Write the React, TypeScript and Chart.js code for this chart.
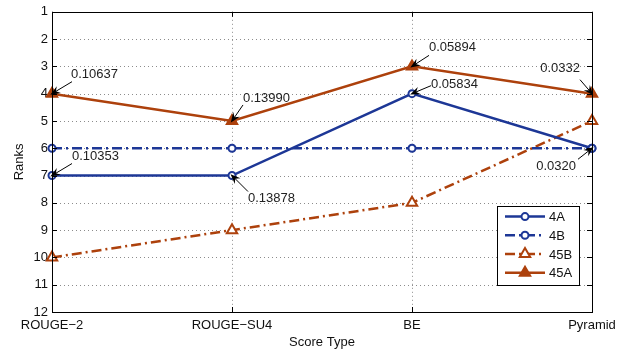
import React, { useEffect, useRef } from "react";
import { Chart, registerables } from "chart.js";

Chart.register(...registerables);

const categories = ["ROUGE\u22122", "ROUGE\u2212SU4", "BE", "Pyramid"];
const seriesNames = ["4A", "4B", "45B", "45A"];
const s4A = [7, 7, 4, 6];
const s4B = [6, 6, 6, 6];
const s45B = [10, 9, 8, 5];
const s45A = [4, 5, 3, 4];
const yTicks = [1, 2, 3, 4, 5, 6, 7, 8, 9, 10, 11, 12];

// annotation: series index, category index, label
const annSeries = [3, 0, 3, 0, 3, 0, 3, 0];
const annCat = [0, 0, 1, 1, 2, 2, 3, 3];
const annLabels = ["0.10637", "0.10353", "0.13990", "0.13878", "0.05894", "0.05834", "0.0332", "0.0320"];

// layout of annotations (offsets from point): text anchor dx, dy, align; arrow start dx, dy
const annLayout = [
  { tx: 19, ty: -19, align: "left", ax: 20, ay: -12 },
  { tx: 20, ty: -19, align: "left", ax: 20, ay: -12 },
  { tx: 11, ty: -23, align: "left", ax: 11, ay: -16 },
  { tx: 16, ty: 23, align: "left", ax: 16, ay: 16 },
  { tx: 17, ty: -19, align: "left", ax: 17, ay: -11 },
  { tx: 19, ty: -9, align: "left", ax: 19, ay: -8 },
  { tx: -12, ty: -25, align: "right", ax: -12, ay: -14 },
  { tx: -16, ty: 18, align: "right", ax: -14, ay: 11 },
];

const BLUE = "#1d3796";
const BROWN = "#ad410c";
const FONT = "'Liberation Sans', Arial, sans-serif";
const FS = 13;
const LW = 2.5;

const seriesData = [s4A, s4B, s45B, s45A];
const seriesColors = [BLUE, BLUE, BROWN, BROWN];
const seriesDash = [[], [10, 4, 2, 4], [10, 4, 2, 4], []];
const seriesPoint = ["circle", "circle", "triangle", "triangle"];
const seriesRadius = [3.5, 3.5, 6, 6];
const seriesFill = ["#ffffff", "#ffffff", "#ffffff", BROWN];

function drawArrow(ctx: CanvasRenderingContext2D, x1: number, y1: number, x2: number, y2: number) {
  const ang = Math.atan2(y2 - y1, x2 - x1);
  const len = 10;
  const hw = 4;
  ctx.save();
  ctx.strokeStyle = "#000";
  ctx.fillStyle = "#000";
  ctx.lineWidth = 1;
  ctx.beginPath();
  ctx.moveTo(x1, y1);
  ctx.lineTo(x2 - Math.cos(ang) * len * 0.6, y2 - Math.sin(ang) * len * 0.6);
  ctx.stroke();
  const bx = x2 - Math.cos(ang) * len;
  const by = y2 - Math.sin(ang) * len;
  const nx = -Math.sin(ang);
  const ny = Math.cos(ang);
  const mx = x2 - Math.cos(ang) * len * 0.65;
  const my = y2 - Math.sin(ang) * len * 0.65;
  ctx.beginPath();
  ctx.moveTo(x2, y2);
  ctx.lineTo(bx + nx * hw, by + ny * hw);
  ctx.lineTo(mx, my);
  ctx.lineTo(bx - nx * hw, by - ny * hw);
  ctx.closePath();
  ctx.fill();
  ctx.restore();
}

const gridPlugin = {
  id: "dotGrid",
  beforeDatasetsDraw(chart: any) {
    const ctx = chart.ctx as CanvasRenderingContext2D;
    const ca = chart.chartArea;
    const xs = chart.scales.x;
    const ys = chart.scales.y;
    ctx.save();
    ctx.strokeStyle = "#8c8c8c";
    ctx.lineWidth = 1;
    ctx.setLineDash([1, 3]);
    ctx.beginPath();
    yTicks.forEach((t) => {
      const y = Math.round(ys.getPixelForValue(t)) + 0.5;
      ctx.moveTo(ca.left, y);
      ctx.lineTo(ca.right, y);
    });
    categories.forEach((_, i) => {
      const x = Math.round(xs.getPixelForValue(i)) + 0.5;
      ctx.moveTo(x, ca.top);
      ctx.lineTo(x, ca.bottom);
    });
    ctx.stroke();
    ctx.restore();
  },
};

const overlayPlugin = {
  id: "overlay",
  afterDraw(chart: any) {
    const ctx = chart.ctx as CanvasRenderingContext2D;
    const ca = chart.chartArea;
    const xs = chart.scales.x;
    const ys = chart.scales.y;
    ctx.save();
    // tick marks inside
    ctx.strokeStyle = "#000";
    ctx.lineWidth = 1;
    ctx.beginPath();
    yTicks.forEach((t) => {
      const y = Math.round(ys.getPixelForValue(t)) + 0.5;
      ctx.moveTo(ca.left, y);
      ctx.lineTo(ca.left + 5, y);
      ctx.moveTo(ca.right, y);
      ctx.lineTo(ca.right - 5, y);
    });
    categories.forEach((_, i) => {
      const x = Math.round(xs.getPixelForValue(i)) + 0.5;
      ctx.moveTo(x, ca.bottom);
      ctx.lineTo(x, ca.bottom - 5);
      ctx.moveTo(x, ca.top);
      ctx.lineTo(x, ca.top + 5);
    });
    ctx.stroke();
    // box
    ctx.strokeRect(Math.round(ca.left) + 0.5, Math.round(ca.top) + 0.5, Math.round(ca.right - ca.left), Math.round(ca.bottom - ca.top));

    // annotations
    ctx.font = `${FS}px ${FONT}`;
    ctx.textBaseline = "middle";
    annLabels.forEach((lab, i) => {
      const s = annSeries[i];
      const c = annCat[i];
      const px = xs.getPixelForValue(c);
      const py = ys.getPixelForValue(seriesData[s][c]);
      const L = annLayout[i];
      ctx.textAlign = L.align as CanvasTextAlign;
      ctx.fillStyle = "#222";
      ctx.fillText(lab, px + L.tx, py + L.ty);
      const ang = Math.atan2(-L.ay, -L.ax);
      drawArrow(ctx, px + L.ax, py + L.ay, px + Math.cos(ang) * 2, py + Math.sin(ang) * 2);
    });

    // legend
    const lx = ca.right - 95;
    const ly = ys.getPixelForValue(8.1);
    const lw = 82;
    const lh = 79;
    ctx.fillStyle = "#fff";
    ctx.fillRect(lx, ly, lw, lh);
    ctx.strokeStyle = "#000";
    ctx.lineWidth = 1;
    ctx.strokeRect(Math.round(lx) + 0.5, Math.round(ly) + 0.5, lw, lh);
    seriesNames.forEach((name, i) => {
      const y = ly + 11 + i * 18.7;
      ctx.save();
      ctx.strokeStyle = seriesColors[i];
      ctx.lineWidth = LW;
      ctx.setLineDash(seriesDash[i]);
      ctx.beginPath();
      ctx.moveTo(lx + 8, y);
      ctx.lineTo(lx + 48, y);
      ctx.stroke();
      ctx.setLineDash([]);
      ctx.lineWidth = 2;
      ctx.fillStyle = seriesFill[i];
      ctx.beginPath();
      const mx = lx + 28;
      if (seriesPoint[i] === "circle") {
        ctx.arc(mx, y, seriesRadius[i], 0, Math.PI * 2);
      } else {
        const r = seriesRadius[i];
        for (let k = 0; k < 3; k++) {
          const a = (k * 2 * Math.PI) / 3;
          const vx = mx + Math.sin(a) * r;
          const vy = y - Math.cos(a) * r;
          if (k === 0) ctx.moveTo(vx, vy);
          else ctx.lineTo(vx, vy);
        }
        ctx.closePath();
      }
      ctx.fill();
      ctx.stroke();
      ctx.restore();
      ctx.fillStyle = "#111";
      ctx.font = `${FS}px ${FONT}`;
      ctx.textAlign = "left";
      ctx.textBaseline = "middle";
      ctx.fillText(name, lx + 52, y + 1);
    });
    ctx.restore();
  },
};

export default function App() {
  const ref = useRef<HTMLCanvasElement | null>(null);
  useEffect(() => {
    document.body.style.margin = "0";
    const canvas = ref.current!;
    const chart = new Chart(canvas, {
      type: "line",
      data: {
        labels: categories,
        datasets: seriesNames.map((name, i) => ({
          label: name,
          data: seriesData[i],
          borderColor: seriesColors[i],
          backgroundColor: seriesFill[i],
          borderWidth: LW,
          borderDash: seriesDash[i],
          pointStyle: seriesPoint[i] as any,
          pointRadius: seriesRadius[i],
          pointBorderWidth: 2,
          pointBorderColor: seriesColors[i],
          pointBackgroundColor: seriesFill[i],
          tension: 0,
          fill: false,
        })),
      },
      options: {
        responsive: false,
        animation: false,
        devicePixelRatio: 1,
        layout: { padding: { top: 9, right: 37, left: 0, bottom: 0 } },
        plugins: { legend: { display: false }, tooltip: { enabled: false } },
        scales: {
          x: {
            type: "category",
            offset: false,
            border: { display: false },
            grid: { display: false, drawTicks: false },
            ticks: { color: "#111", font: { family: FONT, size: FS }, padding: 6, maxRotation: 0, autoSkip: false },
            title: { display: true, text: "Score Type", color: "#111", font: { family: FONT, size: FS }, padding: { top: 3, bottom: 0 } },
            afterFit: (s: any) => { s.height = 38; },
          } as any,
          y: {
            type: "linear",
            reverse: true,
            min: 1,
            max: 12,
            border: { display: false },
            grid: { display: false, drawTicks: false },
            ticks: { stepSize: 1, color: "#111", font: { family: FONT, size: FS }, padding: 4 },
            title: { display: true, text: "Ranks", color: "#111", font: { family: FONT, size: FS }, padding: { top: 12, bottom: 0 } },
            afterFit: (s: any) => { s.width = 52; },
          } as any,
        },
      },
      plugins: [gridPlugin, overlayPlugin],
    });
    return () => chart.destroy();
  }, []);
  return (
    <div style={{ position: "fixed", left: 0, top: 0, width: 629, height: 350 }}>
      <canvas ref={ref} width={629} height={350} />
    </div>
  );
}
